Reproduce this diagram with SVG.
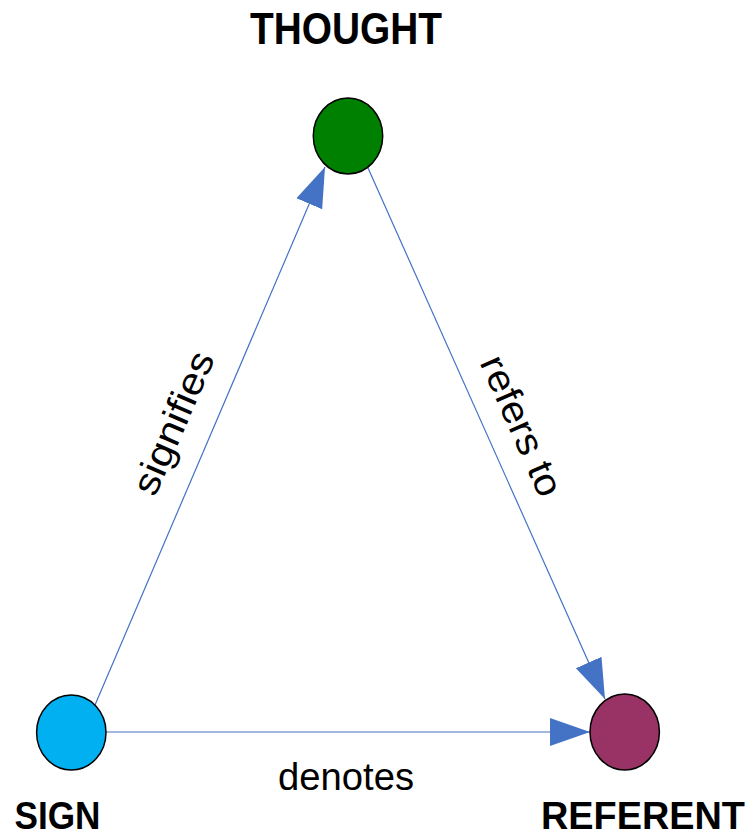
<svg xmlns="http://www.w3.org/2000/svg" width="753" height="837" viewBox="0 0 753 837">
<style>
.node{stroke:#000;stroke-width:1.5}
.edge{stroke:#4472C4;stroke-width:1.2;fill:none}
.title{font-family:"Liberation Sans",Arial,sans-serif;font-weight:bold;fill:#000;text-anchor:middle}
.lbl{font-family:"Liberation Sans",Arial,sans-serif;font-size:38px;fill:#000;text-anchor:middle}
</style>
<defs>
<marker id="ah" markerUnits="userSpaceOnUse" markerWidth="42" markerHeight="30" viewBox="0 0 42 30" refX="40" refY="15" orient="auto">
<path d="M0,1 L40,15 L0,29 Z" fill="#4472C4"/>
</marker>
</defs>
<rect width="753" height="837" fill="#fff"/>
<g id="connectors">
<line class="edge" x1="95" y1="705" x2="325" y2="167" marker-end="url(#ah)"/>
<line class="edge" x1="368" y1="168" x2="605" y2="699" marker-end="url(#ah)"/>
<line class="edge" x1="106" y1="732" x2="590" y2="732" marker-end="url(#ah)"/>
<text class="lbl" transform="translate(176,424) rotate(-66.7)" x="0" y="10" textLength="152" lengthAdjust="spacingAndGlyphs">signifies</text>
<text class="lbl" transform="translate(519,427) rotate(66)" x="0" y="10" textLength="150" lengthAdjust="spacingAndGlyphs">refers to</text>
<text class="lbl" x="346" y="790" textLength="136" lengthAdjust="spacingAndGlyphs">denotes</text>
</g>
<g id="thought">
<ellipse class="node" cx="348" cy="136" rx="34.7" ry="38" fill="#008000"/>
<text class="title" x="346" y="44" font-size="44" textLength="192" lengthAdjust="spacingAndGlyphs">THOUGHT</text>
</g>
<g id="sign">
<ellipse class="node" cx="71.3" cy="732.5" rx="34.7" ry="37.5" fill="#00B0F0"/>
<text class="title" x="57.5" y="829" font-size="39" textLength="86" lengthAdjust="spacingAndGlyphs">SIGN</text>
</g>
<g id="referent">
<ellipse class="node" cx="624.7" cy="732" rx="34.7" ry="38" fill="#993366"/>
<text class="title" x="643" y="829" font-size="39" textLength="204" lengthAdjust="spacingAndGlyphs">REFERENT</text>
</g>
</svg>
